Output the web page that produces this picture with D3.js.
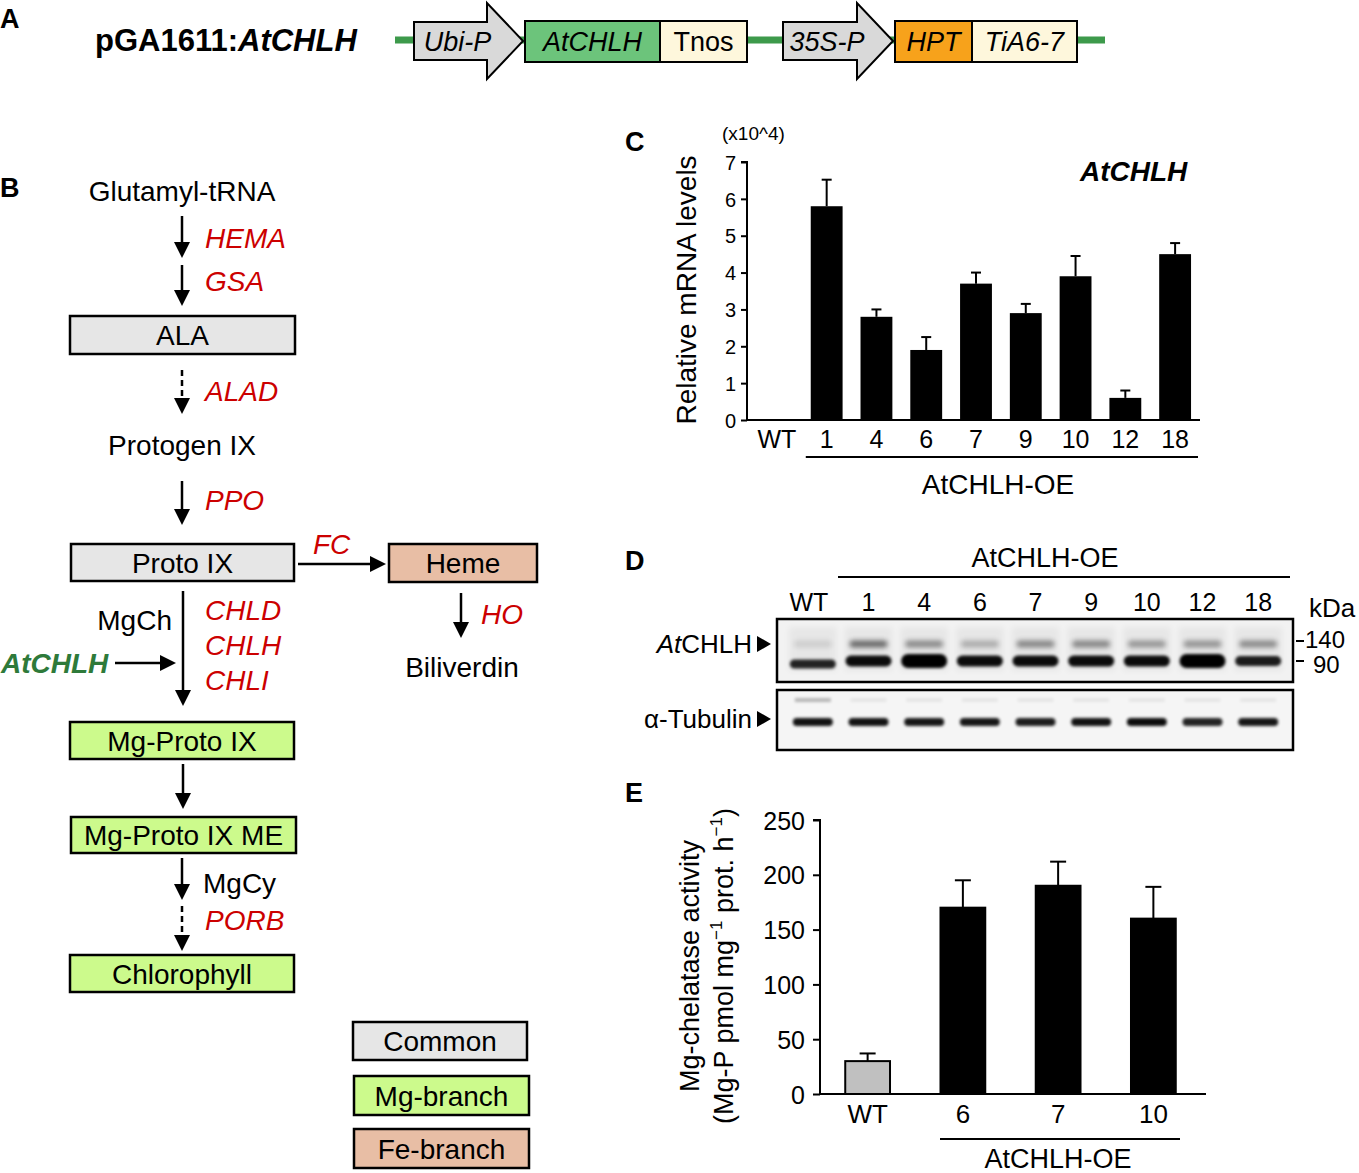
<!DOCTYPE html>
<html><head><meta charset="utf-8">
<script src="https://cdn.jsdelivr.net/npm/d3@7"></script>
<style>
body{margin:0;background:#fff}
svg{display:block}
text{font-family:"Liberation Sans",Arial,Helvetica,sans-serif;fill:#000}
</style>
</head><body>
<svg id="fig" width="1359" height="1173"></svg>
<script>
// ---------- Panel C: relative mRNA levels (x10^4) ----------
const mrnaLines = ["WT","1","4","6","7","9","10","12","18"];
const mrnaMean  = [0, 5.8, 2.8, 1.9, 3.7, 2.9, 3.9, 0.6, 4.5];
const mrnaErr   = [0, 0.72, 0.2, 0.35, 0.3, 0.25, 0.55, 0.2, 0.3];
const mrnaTicks = [0,1,2,3,4,5,6,7];

// ---------- Panel E: Mg-chelatase activity ----------
const actLines = ["WT","6","7","10"];
const actMean  = [30, 170, 190, 160];
const actErr   = [7, 25, 22, 29];
const actTicks = [0,50,100,150,200,250];

// ---------- Panel D: western blot lanes (relative band intensity) ----------
const blotLanes   = ["WT","1","4","6","7","9","10","12","18"];
const band140     = [0.10, 0.55, 0.40, 0.25, 0.42, 0.42, 0.35, 0.36, 0.40];
const band90      = [0.85, 0.95, 1.00, 0.95, 0.95, 0.95, 0.95, 1.00, 0.88];
const band90Thick = [0.4, 0.6, 1.0, 0.65, 0.6, 0.65, 0.65, 1.0, 0.5];
const bandTub     = [0.92, 0.92, 0.90, 0.90, 0.88, 0.92, 0.95, 0.85, 0.90];

// ---------- Panel A: construct elements ----------
const constructParts = ["Ubi-P","AtCHLH","Tnos","35S-P","HPT","TiA6-7"];

const svg = d3.select("#fig");
const RED = "#cc0000";

function txt(g, x, y, s, opts={}) {
  const t = g.append("text").attr("x", x).attr("y", y).text(s)
    .attr("font-size", opts.size || 28)
    .attr("text-anchor", opts.anchor || "start");
  if (opts.bold) t.attr("font-weight", "bold");
  if (opts.italic) t.attr("font-style", "italic");
  if (opts.fill) t.style("fill", opts.fill);
  return t;
}

// panel letters
[["A",0,28],["B",0,197],["C",625,151],["D",625,570],["E",625,802]].forEach(([l,x,y]) =>
  txt(svg, x, y, l, {size:27, bold:true}));

// ================= Panel A =================
const gA = svg.append("g");
const tA = gA.append("text").attr("x", 95).attr("y", 51).attr("font-size", 31).attr("font-weight","bold");
tA.append("tspan").text("pGA1611:");
tA.append("tspan").attr("font-style","italic").text("AtCHLH");
gA.append("line").attr("x1",395).attr("x2",1105).attr("y1",40).attr("y2",40)
  .attr("stroke","#3d9a4b").attr("stroke-width",7);

function promoter(x0, x1, tip, label) {
  const pts = [[x0,22],[x1,22],[x1,3],[tip,41],[x1,79],[x1,60],[x0,60]];
  gA.append("path").attr("d", d3.line()(pts) + "Z").attr("fill","#d9d9d9")
    .attr("stroke","#000").attr("stroke-width",2);
  txt(gA, (x0+x1)/2 + 7, 51, label, {size:27, italic:true, anchor:"middle"});
}
function box(x0, x1, label, fill, italic) {
  gA.append("rect").attr("x",x0).attr("y",21).attr("width",x1-x0).attr("height",41)
    .attr("fill",fill).attr("stroke","#000").attr("stroke-width",2);
  txt(gA, (x0+x1)/2, 51, label, {size:27, italic:italic, anchor:"middle"});
}
promoter(414, 487, 523, constructParts[0]);
box(525, 660, constructParts[1], "#6cc47b", true);
box(660, 747, constructParts[2], "#fef7dc", false);
promoter(783, 857, 893, constructParts[3]);
box(895, 972, constructParts[4], "#f7a21b", true);
box(972, 1077, constructParts[5], "#fef7dc", true);

// ================= Panel B =================
const gB = svg.append("g");
function vArrow(x, y1, y2, dashed) {
  gB.append("line").attr("x1",x).attr("x2",x).attr("y1",y1).attr("y2",y2-12)
    .attr("stroke","#000").attr("stroke-width",2.5)
    .attr("stroke-dasharray", dashed ? "6,4" : null);
  gB.append("path").attr("d", `M${x-8},${y2-16}L${x+8},${y2-16}L${x},${y2}Z`).attr("fill","#000");
}
function hArrow(x1, x2, y) {
  gB.append("line").attr("x1",x1).attr("x2",x2-12).attr("y1",y).attr("y2",y)
    .attr("stroke","#000").attr("stroke-width",2.5);
  gB.append("path").attr("d", `M${x2-16},${y-8}L${x2-16},${y+8}L${x2},${y}Z`).attr("fill","#000");
}
function nodeBox(x, y, w, h, fill, label) {
  gB.append("rect").attr("x",x).attr("y",y).attr("width",w).attr("height",h)
    .attr("fill",fill).attr("stroke","#000").attr("stroke-width",2.5);
  txt(gB, x + w/2, y + h/2 + 10, label, {size:28, anchor:"middle"});
}
const GREY = "#e6e6e6", LIME = "#ccfa8c", SALMON = "#e8bea5";

txt(gB, 182, 201, "Glutamyl-tRNA", {anchor:"middle"});
vArrow(182, 216, 258); txt(gB, 205, 248, "HEMA", {italic:true, fill:RED});
vArrow(182, 265, 306); txt(gB, 205, 291, "GSA", {italic:true, fill:RED});
nodeBox(70, 316, 225, 38, GREY, "ALA");
vArrow(182, 370, 414, true); txt(gB, 205, 401, "ALAD", {italic:true, fill:RED});
txt(gB, 182, 455, "Protogen IX", {anchor:"middle"});
vArrow(182, 481, 525); txt(gB, 205, 510, "PPO", {italic:true, fill:RED});
nodeBox(71, 544, 223, 37, GREY, "Proto IX");
hArrow(298, 386, 564); txt(gB, 313, 554, "FC", {italic:true, fill:RED});
nodeBox(389, 544, 148, 38, SALMON, "Heme");
vArrow(461, 593, 638); txt(gB, 481, 624, "HO", {italic:true, fill:RED});
txt(gB, 462, 677, "Biliverdin", {anchor:"middle"});
vArrow(183, 591, 706);
txt(gB, 172, 630, "MgCh", {anchor:"end"});
txt(gB, 205, 620, "CHLD", {italic:true, fill:RED});
txt(gB, 205, 655, "CHLH", {italic:true, fill:RED});
txt(gB, 205, 690, "CHLI", {italic:true, fill:RED});
txt(gB, 1, 673, "AtCHLH", {italic:true, bold:true, fill:"#2e7a3a"});
hArrow(115, 176, 663);
nodeBox(70, 722, 224, 37, LIME, "Mg-Proto IX");
vArrow(183, 764, 809);
nodeBox(71, 817, 225, 36, LIME, "Mg-Proto IX ME");
vArrow(182, 858, 900);
vArrow(182, 906, 951, true);
txt(gB, 203, 893, "MgCy");
txt(gB, 205, 930, "PORB", {italic:true, fill:RED});
nodeBox(70, 955, 224, 37, LIME, "Chlorophyll");
nodeBox(353, 1022, 174, 38, GREY, "Common");
nodeBox(354, 1076, 175, 39, LIME, "Mg-branch");
nodeBox(354, 1129, 175, 39, SALMON, "Fe-branch");

// ================= Panel C =================
const gC = svg.append("g");
const xC = d3.scaleBand().domain(mrnaLines).range([752, 1200]).padding(0);
const yC = d3.scaleLinear().domain([0, 7]).range([420, 162]);
const bwC = xC.bandwidth() * 0.64;
const dataC = mrnaLines.map((k,i) => ({k, v: mrnaMean[i], e: mrnaErr[i]}));
dataC.filter(d => d.e > 0).forEach(d => {
  const cx = xC(d.k) + xC.bandwidth()/2;
  gC.append("line").attr("x1",cx).attr("x2",cx).attr("y1",yC(d.v)).attr("y2",yC(d.v+d.e))
    .attr("stroke","#000").attr("stroke-width",2);
  gC.append("line").attr("x1",cx-5).attr("x2",cx+5).attr("y1",yC(d.v+d.e)).attr("y2",yC(d.v+d.e))
    .attr("stroke","#000").attr("stroke-width",2);
});
gC.selectAll("rect.bar").data(dataC).join("rect").attr("class","bar")
  .attr("x", d => xC(d.k) + (xC.bandwidth()-bwC)/2).attr("width", bwC)
  .attr("y", d => yC(d.v)).attr("height", d => yC(0) - yC(d.v)).attr("fill","#000");
const yAxisC = gC.append("g").attr("transform","translate(747,0)")
  .call(d3.axisLeft(yC).tickValues(mrnaTicks).tickSize(6).tickPadding(5).tickFormat(d3.format("d")));
yAxisC.select(".domain").attr("stroke-width",2).attr("d", `M-6,${yC(7)}H0V${yC(0)}`);
yAxisC.selectAll(".tick line").attr("stroke-width",2);
yAxisC.selectAll(".tick text").attr("font-size",20).attr("font-family",null).attr("dy","0.36em");
const xAxisC = gC.append("g").attr("transform","translate(0,420)")
  .call(d3.axisBottom(xC).tickSize(0).tickPadding(8));
xAxisC.select(".domain").attr("stroke-width",2).attr("d","M747,0H1200");
xAxisC.selectAll(".tick text").attr("font-size",25).attr("font-family",null).attr("dy","0.78em");
gC.append("line").attr("x1", xC("1") + 4).attr("x2", 1198).attr("y1",457).attr("y2",457)
  .attr("stroke","#000").attr("stroke-width",2);
txt(gC, 998, 494, "AtCHLH-OE", {anchor:"middle"});
txt(gC, 722, 140, "(x10^4)", {size:19});
txt(gC, 1080, 181, "AtCHLH", {size:28, bold:true, italic:true});
gC.append("text").attr("transform","translate(686,290) rotate(-90)")
  .attr("text-anchor","middle").attr("dy","0.35em").attr("font-size",28).text("Relative mRNA levels");

// ================= Panel D =================
const gD = svg.append("g");
const defs = svg.append("defs");
defs.append("filter").attr("id","blur").attr("x","-30%").attr("y","-100%").attr("width","160%").attr("height","300%")
  .append("feGaussianBlur").attr("stdDeviation", 1.6);
defs.append("filter").attr("id","blurS").attr("x","-30%").attr("y","-150%").attr("width","160%").attr("height","400%")
  .append("feGaussianBlur").attr("stdDeviation", 2.4);
defs.append("filter").attr("id","blur2").attr("x","-30%").attr("y","-100%").attr("width","160%").attr("height","300%")
  .append("feGaussianBlur").attr("stdDeviation", 3);
const xD = d3.scaleBand().domain(blotLanes).range([785, 1286]).padding(0);
const laneC = k => xD(k) + xD.bandwidth()/2;
txt(gD, 1045, 567, "AtCHLH-OE", {size:27, anchor:"middle"});
gD.append("line").attr("x1",838).attr("x2",1290).attr("y1",577).attr("y2",577).attr("stroke","#000").attr("stroke-width",2);
blotLanes.forEach(k => txt(gD, laneC(k) - (k==="WT"?4:0), 611, k, {size:25, anchor:"middle"}));
txt(gD, 1309, 617, "kDa", {size:26});
const boxTop = {y:619, h:63}, boxBot = {y:690, h:60};
gD.append("rect").attr("x",777).attr("y",boxTop.y).attr("width",516).attr("height",boxTop.h).attr("fill","#f2f2f2");
gD.append("rect").attr("x",777).attr("y",boxBot.y).attr("width",516).attr("height",boxBot.h).attr("fill","#f5f5f5");
const bandsG = gD.append("g");
blotLanes.forEach((k,i) => {
  const cx = laneC(k);
  bandsG.append("rect").attr("x",cx-24).attr("y",boxTop.y+8).attr("width",48).attr("height",44)
    .attr("fill","#000").attr("opacity",0.045).attr("filter","url(#blur2)");
  bandsG.append("rect").attr("x",cx-19).attr("y",644-3.5).attr("width",38).attr("height",7).attr("rx",3.5)
    .attr("fill","#000").attr("opacity",band140[i]).attr("filter","url(#blurS)");
  const h90 = 6 + 8*band90Thick[i];
  const yc90 = (k==="WT") ? 664 : 661;
  bandsG.append("rect").attr("x",cx-23).attr("y",yc90-h90/2).attr("width",46).attr("height",h90).attr("rx",h90/2)
    .attr("fill","#000").attr("opacity",band90[i]).attr("filter","url(#blur)");
  bandsG.append("rect").attr("x",cx-20).attr("y",722-4).attr("width",40).attr("height",8).attr("rx",4)
    .attr("fill","#000").attr("opacity",bandTub[i]).attr("filter","url(#blur)");
  bandsG.append("rect").attr("x",cx-18).attr("y",698).attr("width",36).attr("height",4)
    .attr("fill","#000").attr("opacity", k==="WT"?0.25:0.06).attr("filter","url(#blur)");
});
gD.append("rect").attr("x",777).attr("y",boxTop.y).attr("width",516).attr("height",boxTop.h)
  .attr("fill","none").attr("stroke","#000").attr("stroke-width",2.5);
gD.append("rect").attr("x",777).attr("y",boxBot.y).attr("width",516).attr("height",boxBot.h)
  .attr("fill","none").attr("stroke","#000").attr("stroke-width",2.5);
const tD = gD.append("text").attr("x",752).attr("y",653).attr("text-anchor","end").attr("font-size",26);
tD.append("tspan").attr("font-style","italic").text("At");
tD.append("tspan").text("CHLH");
gD.append("path").attr("d","M757,636L771,644L757,652Z").attr("fill","#000");
txt(gD, 752, 728, "α-Tubulin", {size:26, anchor:"end"});
gD.append("path").attr("d","M757,711L771,719L757,727Z").attr("fill","#000");
gD.append("line").attr("x1",1296).attr("x2",1304).attr("y1",641).attr("y2",641).attr("stroke","#000").attr("stroke-width",2);
txt(gD, 1305, 648, "140", {size:24});
gD.append("line").attr("x1",1296).attr("x2",1304).attr("y1",661).attr("y2",661).attr("stroke","#000").attr("stroke-width",2);
txt(gD, 1313, 673, "90", {size:24});

// ================= Panel E =================
const gE = svg.append("g");
const xE = d3.scaleBand().domain(actLines).range([820, 1201]).padding(0);
const yE = d3.scaleLinear().domain([0, 250]).range([1094, 820]);
const bwE = xE.bandwidth() * 0.47;
const dataE = actLines.map((k,i) => ({k, v: actMean[i], e: actErr[i]}));
dataE.forEach(d => {
  const cx = xE(d.k) + xE.bandwidth()/2;
  gE.append("line").attr("x1",cx).attr("x2",cx).attr("y1",yE(d.v)).attr("y2",yE(d.v+d.e))
    .attr("stroke","#000").attr("stroke-width",2);
  gE.append("line").attr("x1",cx-8).attr("x2",cx+8).attr("y1",yE(d.v+d.e)).attr("y2",yE(d.v+d.e))
    .attr("stroke","#000").attr("stroke-width",2);
});
gE.selectAll("rect.bar").data(dataE).join("rect").attr("class","bar")
  .attr("x", d => xE(d.k) + (xE.bandwidth()-bwE)/2).attr("width", bwE)
  .attr("y", d => yE(d.v)).attr("height", d => yE(0) - yE(d.v))
  .attr("fill", d => d.k === "WT" ? "#c0c0c0" : "#000")
  .attr("stroke","#000").attr("stroke-width",2);
const yAxisE = gE.append("g").attr("transform","translate(820,0)")
  .call(d3.axisLeft(yE).tickValues(actTicks).tickSize(7).tickPadding(8).tickFormat(d3.format("d")));
yAxisE.select(".domain").attr("stroke-width",2).attr("d", `M-7,${yE(250)}H0V${yE(0)}`);
yAxisE.selectAll(".tick line").attr("stroke-width",2);
yAxisE.selectAll(".tick text").attr("font-size",25).attr("font-family",null).attr("dy","0.36em");
const xAxisE = gE.append("g").attr("transform","translate(0,1094)")
  .call(d3.axisBottom(xE).tickSize(0).tickPadding(9));
xAxisE.select(".domain").attr("stroke-width",2).attr("d","M820,0H1206");
xAxisE.selectAll(".tick text").attr("font-size",26).attr("font-family",null).attr("dy","0.78em");
gE.append("line").attr("x1",940).attr("x2",1180).attr("y1",1139).attr("y2",1139)
  .attr("stroke","#000").attr("stroke-width",2);
txt(gE, 1058, 1168, "AtCHLH-OE", {size:27, anchor:"middle"});
gE.append("text").attr("transform","translate(690,966) rotate(-90)")
  .attr("text-anchor","middle").attr("dy","0.35em").attr("font-size",27).text("Mg-chelatase activity");
const t2 = gE.append("text").attr("transform","translate(724,966) rotate(-90)")
  .attr("text-anchor","middle").attr("dy","0.35em").attr("font-size",27);
t2.append("tspan").text("(Mg-P pmol mg");
t2.append("tspan").attr("font-size",17).attr("dy",-11).text("−1");
t2.append("tspan").attr("dy",11).text(" prot. h");
t2.append("tspan").attr("font-size",17).attr("dy",-11).text("−1");
t2.append("tspan").attr("dy",11).text(")");
</script>
</body></html>
